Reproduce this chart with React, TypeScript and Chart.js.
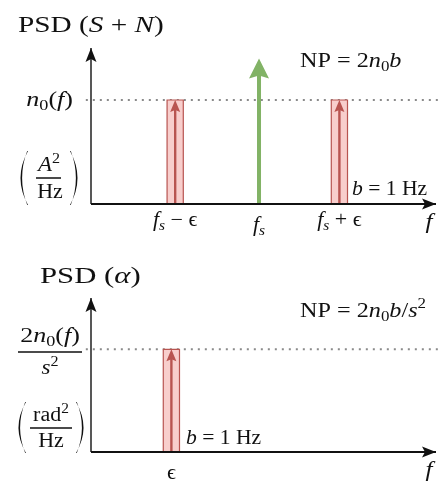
import React, { useEffect, useRef } from "react";
import { Chart, registerables } from "chart.js";

Chart.register(...registerables);

// ---------- data ----------
const X_MAX = 100;
const Y_MAX = 1.5;
const noiseLevel = 1.0; // n0(f) in top panel, 2n0(f)/s^2 in bottom panel
const signalX = 48.7; // f_s
const signalPower = 1.4; // delta at f_s
const sidebandX = [24.4, 72.0]; // f_s − ε, f_s + ε
const bandHalfWidth = 2.35; // b / 2
const alphaBandX = [23.3]; // ε

type Run = { t: string; it?: boolean; sub?: boolean; sup?: boolean };

const topTickRuns: Run[][] = [
  [{ t: "f", it: true }, { t: "s", it: true, sub: true }, { t: " − ϵ" }],
  [{ t: "f", it: true }, { t: "s", it: true, sub: true }],
  [{ t: "f", it: true }, { t: "s", it: true, sub: true }, { t: " + ϵ" }],
];
const topTickX = [sidebandX[0], signalX, sidebandX[1]];
const bottomTickRuns: Run[][] = [[{ t: "ϵ" }]];
const bottomTickX = [alphaBandX[0]];

// ---------- styling ----------
const FAMILY = "'Liberation Serif', 'DejaVu Serif', serif";
const RED_FILL = "#f8cecc";
const RED_LINE = "#b85450";
const GREEN = "#82b366";
const INK = "#111111";

function fontFor(r: Run, size: number) {
  const s = r.sub || r.sup ? size * 0.7 : size;
  return `${r.it ? "italic " : ""}${s}px ${FAMILY}`;
}
function measureRuns(ctx: CanvasRenderingContext2D, runs: Run[], size: number) {
  let w = 0;
  for (const r of runs) {
    ctx.font = fontFor(r, size);
    w += ctx.measureText(r.t).width;
  }
  return w;
}
function drawRuns(
  ctx: CanvasRenderingContext2D,
  runs: Run[],
  x: number,
  y: number,
  size: number,
  align: "left" | "center" | "right" = "left",
  stretch = 1.15
) {
  const w = measureRuns(ctx, runs, size) * stretch;
  const start = align === "left" ? x : align === "center" ? x - w / 2 : x - w;
  ctx.save();
  ctx.translate(start, y);
  ctx.scale(stretch, 1);
  ctx.textAlign = "left";
  ctx.textBaseline = "alphabetic";
  ctx.fillStyle = INK;
  let cx = 0;
  for (const r of runs) {
    ctx.font = fontFor(r, size);
    const dy = r.sub ? size * 0.2 : r.sup ? -size * 0.4 : 0;
    ctx.fillText(r.t, cx, dy);
    cx += ctx.measureText(r.t).width;
  }
  ctx.restore();
}
function arrowHead(
  ctx: CanvasRenderingContext2D,
  x: number,
  y: number,
  dir: "up" | "right",
  len: number,
  half: number,
  inset: number,
  color: string
) {
  const dx = dir === "right" ? 1 : 0;
  const dy = dir === "up" ? -1 : 0;
  const px = -dy, py = dx;
  ctx.beginPath();
  ctx.moveTo(x, y);
  ctx.lineTo(x - dx * len + px * half, y - dy * len + py * half);
  ctx.lineTo(x - dx * (len - inset), y - dy * (len - inset));
  ctx.lineTo(x - dx * len - px * half, y - dy * len - py * half);
  ctx.closePath();
  ctx.fillStyle = color;
  ctx.fill();
}
function bigParen(ctx: CanvasRenderingContext2D, x: number, top: number, bottom: number, side: "l" | "r") {
  const mid = (top + bottom) / 2;
  const s = side === "l" ? -1 : 1;
  ctx.beginPath();
  ctx.moveTo(x, top);
  ctx.quadraticCurveTo(x + s * 15, mid, x, bottom);
  ctx.lineTo(x + s * 0.8, bottom);
  ctx.quadraticCurveTo(x + s * 11, mid, x + s * 0.8, top);
  ctx.closePath();
  ctx.fillStyle = INK;
  ctx.fill();
}
function hbar(ctx: CanvasRenderingContext2D, x1: number, x2: number, y: number) {
  ctx.fillStyle = INK;
  ctx.fillRect(x1, y - 0.75, x2 - x1, 1.5);
}

// ---------- dataset builders ----------
const line = (pts: { x: number; y: number }[], color: string, width: number, extra: any = {}) => ({
  data: pts,
  showLine: true,
  borderColor: color,
  borderWidth: width,
  pointRadius: 0,
  fill: false,
  clip: false,
  tension: 0,
  ...extra,
});
const band = (cx: number, level: number) =>
  line(
    [
      { x: cx - bandHalfWidth, y: 0 },
      { x: cx - bandHalfWidth, y: level },
      { x: cx + bandHalfWidth, y: level },
      { x: cx + bandHalfWidth, y: 0 },
    ],
    RED_LINE,
    1.2,
    { fill: "origin", backgroundColor: RED_FILL }
  );
const redShaft = (cx: number, level: number) =>
  line([{ x: cx, y: 0 }, { x: cx, y: level - 0.06 }], RED_LINE, 2.4);

type Extra = (ctx: CanvasRenderingContext2D, xs: any, ys: any) => void;

function Panel({
  height,
  padding,
  datasets,
  arrows,
  extra,
}: {
  height: number;
  padding: { left: number; right: number; top: number; bottom: number };
  datasets: any[];
  arrows: { x: number; y: number; dir: "up" | "right"; len: number; half: number; inset: number; color: string }[];
  extra: Extra;
}) {
  const ref = useRef<HTMLCanvasElement | null>(null);
  useEffect(() => {
    if (!ref.current) return;
    const overlay = {
      id: "overlay",
      afterDatasetsDraw(chart: any) {
        const ctx = chart.ctx as CanvasRenderingContext2D;
        const xs = chart.scales.x;
        const ys = chart.scales.y;
        ctx.save();
        for (const a of arrows) {
          arrowHead(ctx, xs.getPixelForValue(a.x), ys.getPixelForValue(a.y), a.dir, a.len, a.half, a.inset, a.color);
        }
        extra(ctx, xs, ys);
        ctx.restore();
      },
    };
    const chart = new Chart(ref.current, {
      type: "scatter",
      data: { datasets },
      options: {
        animation: false,
        responsive: false,
        devicePixelRatio: 1,
        layout: { padding },
        plugins: { legend: { display: false }, tooltip: { enabled: false } },
        scales: {
          x: { type: "linear", display: false, min: 0, max: X_MAX },
          y: { type: "linear", display: false, min: 0, max: Y_MAX },
        },
      },
      plugins: [overlay],
    } as any);
    return () => chart.destroy();
  }, []);
  return <canvas ref={ref} width={438} height={height} style={{ display: "block", width: 438, height }} />;
}

export default function App() {
  const axisX = line([{ x: 0, y: 0 }, { x: X_MAX, y: 0 }], INK, 2);
  const axisY = line([{ x: 0, y: 0 }, { x: 0, y: Y_MAX }], INK, 1.4);
  const dotted = line([{ x: -1.5, y: noiseLevel }, { x: X_MAX + 1, y: noiseLevel }], "#8a8a8a", 2, {
    borderDash: [2, 5],
  });

  const topDatasets = [
    axisX,
    axisY,
    line([{ x: signalX, y: 0 }, { x: signalX, y: signalPower - 0.12 }], GREEN, 4),
    ...sidebandX.map((c) => redShaft(c, noiseLevel)),
    ...sidebandX.map((c) => band(c, noiseLevel)),
    dotted,
  ];
  const topArrows = [
    { x: 0, y: Y_MAX, dir: "up" as const, len: 14, half: 5.5, inset: 3, color: INK },
    { x: X_MAX, y: 0, dir: "right" as const, len: 14, half: 5.5, inset: 3, color: INK },
    { x: signalX, y: signalPower, dir: "up" as const, len: 20, half: 10, inset: 3, color: GREEN },
    ...sidebandX.map((c) => ({ x: c, y: noiseLevel, dir: "up" as const, len: 12, half: 5, inset: 2, color: RED_LINE })),
  ];
  const topExtra: Extra = (ctx, xs, ys) => {
    drawRuns(ctx, [{ t: "PSD (" }, { t: "S", it: true }, { t: " + " }, { t: "N", it: true }, { t: ")" }], 18, 32, 24, "left", 1.22);
    drawRuns(ctx, [{ t: "n", it: true }, { t: "0", sub: true }, { t: "(" }, { t: "f", it: true }, { t: ")" }], 73, ys.getPixelForValue(noiseLevel) + 6, 20, "right", 1.3);
    bigParen(ctx, 28, 151, 205, "l");
    bigParen(ctx, 70, 151, 205, "r");
    drawRuns(ctx, [{ t: "A", it: true }, { t: "2", sup: true }], 49, 171, 20, "center", 1.15);
    hbar(ctx, 36, 61, 178);
    drawRuns(ctx, [{ t: "Hz" }], 50, 198, 20, "center", 1.1);
    drawRuns(ctx, [{ t: "NP = 2" }, { t: "n", it: true }, { t: "0", sub: true }, { t: "b", it: true }], 300, 67, 22, "left", 1.1);
    drawRuns(ctx, [{ t: "b", it: true }, { t: " = 1 Hz" }], 352, 195, 20, "left", 1.08);
    const base = [226, 231, 226];
    topTickRuns.forEach((r, i) => drawRuns(ctx, r, xs.getPixelForValue(topTickX[i]), base[i], 20, "center", 1.1));
    drawRuns(ctx, [{ t: "f", it: true }], 429, 228, 21, "center", 1.2);
  };

  const bottomDatasets = [
    axisX,
    axisY,
    ...alphaBandX.map((c) => redShaft(c, noiseLevel)),
    ...alphaBandX.map((c) => band(c, noiseLevel)),
    dotted,
  ];
  const bottomArrows = [
    { x: 0, y: Y_MAX, dir: "up" as const, len: 14, half: 5.5, inset: 3, color: INK },
    { x: X_MAX, y: 0, dir: "right" as const, len: 14, half: 5.5, inset: 3, color: INK },
    ...alphaBandX.map((c) => ({ x: c, y: noiseLevel, dir: "up" as const, len: 12, half: 5, inset: 2, color: RED_LINE })),
  ];
  const OFF = 245;
  const bottomExtra: Extra = (ctx, xs) => {
    drawRuns(ctx, [{ t: "PSD (" }, { t: "α", it: true }, { t: ")" }], 40, 283 - OFF, 24, "left", 1.28);
    drawRuns(ctx, [{ t: "2" }, { t: "n", it: true }, { t: "0", sub: true }, { t: "(" }, { t: "f", it: true }, { t: ")" }], 50, 342 - OFF, 20, "center", 1.3);
    hbar(ctx, 18, 82, 352 - OFF);
    drawRuns(ctx, [{ t: "s", it: true }, { t: "2", sup: true }], 50, 374 - OFF, 20, "center", 1.15);
    bigParen(ctx, 26, 402 - OFF, 453 - OFF, "l");
    bigParen(ctx, 76, 402 - OFF, 453 - OFF, "r");
    drawRuns(ctx, [{ t: "rad" }, { t: "2", sup: true }], 51, 421 - OFF, 20, "center", 1.1);
    hbar(ctx, 30, 72, 428 - OFF);
    drawRuns(ctx, [{ t: "Hz" }], 51, 447 - OFF, 20, "center", 1.1);
    drawRuns(ctx, [{ t: "NP = 2" }, { t: "n", it: true }, { t: "0", sub: true }, { t: "b", it: true }, { t: "/" }, { t: "s", it: true }, { t: "2", sup: true }], 300, 317 - OFF, 22, "left", 1.1);
    drawRuns(ctx, [{ t: "b", it: true }, { t: " = 1 Hz" }], 186, 444 - OFF, 20, "left", 1.08);
    bottomTickRuns.forEach((r, i) => drawRuns(ctx, r, xs.getPixelForValue(bottomTickX[i]), 479 - OFF, 20, "center", 1.1));
    drawRuns(ctx, [{ t: "f", it: true }], 429, 476 - OFF, 21, "center", 1.2);
  };

  return (
    <div style={{ position: "absolute", left: 0, top: 0, width: 438, height: 483, background: "#fff" }}>
      <Panel
        height={245}
        padding={{ left: 91, right: 2, top: 48, bottom: 41 }}
        datasets={topDatasets}
        arrows={topArrows}
        extra={topExtra}
      />
      <Panel
        height={238}
        padding={{ left: 91, right: 2, top: 53, bottom: 31 }}
        datasets={bottomDatasets}
        arrows={bottomArrows}
        extra={bottomExtra}
      />
    </div>
  );
}
